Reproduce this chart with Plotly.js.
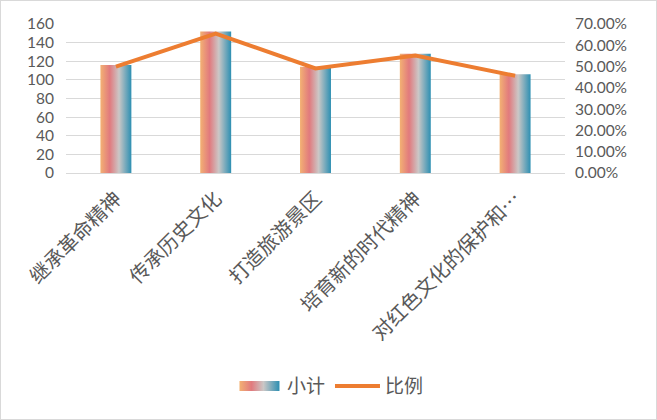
<!DOCTYPE html>
<html>
<head>
<meta charset="utf-8">
<script src="https://cdn.plot.ly/plotly-3.0.1.min.js"></script>
<style>
  html, body { margin: 0; padding: 0; background: #fff; }
  #chart { width: 655px; height: 418px; border: 1px solid #d9d9d9; }
</style>
</head>
<body>
<div id="chart"></div>
<script>
// Chart data
const categories = ['继承革命精神', '传承历史文化', '打造旅游景区', '培育新的时代精神', '对红色文化的保护和…'];
const subtotals = [116, 152, 114, 128, 106];
const ratios = [0.5, 0.655, 0.491, 0.552, 0.457];

// Colours for the bar gradient (left -> right)
const gradientStops = [
  ['0%', '#f3b173'],
  ['30%', '#e17a7e'],
  ['60%', '#cbc7c6'],
  ['100%', '#2c8fb2'],
];

var chartDiv = document.getElementById('chart');
var textColor = '#595959';
var gridColor = '#d9d9d9';

var barTrace = {
  x: categories,
  y: subtotals,
  name: '小计',
  type: 'bar',
  width: 0.31,
  marker: { color: '#e17a7e' },
  hoverinfo: 'skip',
};

var ratioTrace = {
  x: categories,
  y: ratios,
  name: '比例',
  type: 'scatter',
  mode: 'lines',
  yaxis: 'y2',
  line: { color: '#ed7d31', width: 4 },
  hoverinfo: 'skip',
};

var layout = {
  width: 655,
  height: 418,
  margin: { t: 23, b: 246, l: 65, r: 91, pad: 0 },
  paper_bgcolor: '#fff',
  plot_bgcolor: '#fff',
  showlegend: true,
  font: { family: 'Lato, "Noto Sans CJK SC", sans-serif', size: 15, color: textColor },
  xaxis: {
    tickangle: -45,
    tickfont: { family: '"Noto Sans CJK SC", sans-serif', size: 20, color: textColor },
    showline: true,
    linecolor: gridColor,
    linewidth: 1,
    ticks: '',
    ticklabelstandoff: 5,
  },
  yaxis: {
    range: [0, 160],
    dtick: 20,
    gridcolor: gridColor,
    gridwidth: 1,
    zeroline: false,
    ticks: '',
    ticklabelstandoff: 11,
    tickfont: { size: 15.5 },
  },
  yaxis2: {
    overlaying: 'y',
    side: 'right',
    range: [0, 0.7],
    dtick: 0.1,
    tickformat: '.2%',
    showgrid: false,
    zeroline: false,
    ticks: '',
    ticklabelstandoff: 9,
    tickfont: { size: 15.5 },
  },
  legend: {
    orientation: 'h',
    x: 0.53,
    xanchor: 'center',
    y: -1.43,
    yanchor: 'middle',
    itemwidth: 45,
    font: { family: '"Noto Sans CJK SC", sans-serif', size: 19, color: textColor },
  },
};

var config = { responsive: false, displayModeBar: false, staticPlot: true };

// Swap flat bar fill for a horizontal gradient like the original
function addBarGradient() {
  const ns = 'http://www.w3.org/2000/svg';
  const svg = chartDiv.querySelector('svg.main-svg');
  let defs = svg.querySelector('defs');
  if (!defs) {
    defs = document.createElementNS(ns, 'defs');
    svg.insertBefore(defs, svg.firstChild);
  }
  const grad = document.createElementNS(ns, 'linearGradient');
  grad.setAttribute('id', 'barGradient');
  grad.setAttribute('x1', '0');
  grad.setAttribute('y1', '0');
  grad.setAttribute('x2', '1');
  grad.setAttribute('y2', '0');
  gradientStops.forEach((s) => {
    const stop = document.createElementNS(ns, 'stop');
    stop.setAttribute('offset', s[0]);
    stop.setAttribute('stop-color', s[1]);
    grad.appendChild(stop);
  });
  defs.appendChild(grad);

  chartDiv.querySelectorAll('.barlayer .point path').forEach((p) => {
    p.style.fill = 'url(#barGradient)';
  });

  // legend swatch of the bar trace: wider, flatter box
  const legendItems = chartDiv.querySelectorAll('.legend .traces');
  if (legendItems.length) {
    legendItems[0].querySelectorAll('.legendpoints path').forEach((p) => {
      p.setAttribute('d', 'M20,5H-20V-5H20Z');
      p.style.fill = 'url(#barGradient)';
    });
  }
}

Plotly.newPlot(chartDiv, [barTrace, ratioTrace], layout, config).then(addBarGradient);
</script>
</body>
</html>
